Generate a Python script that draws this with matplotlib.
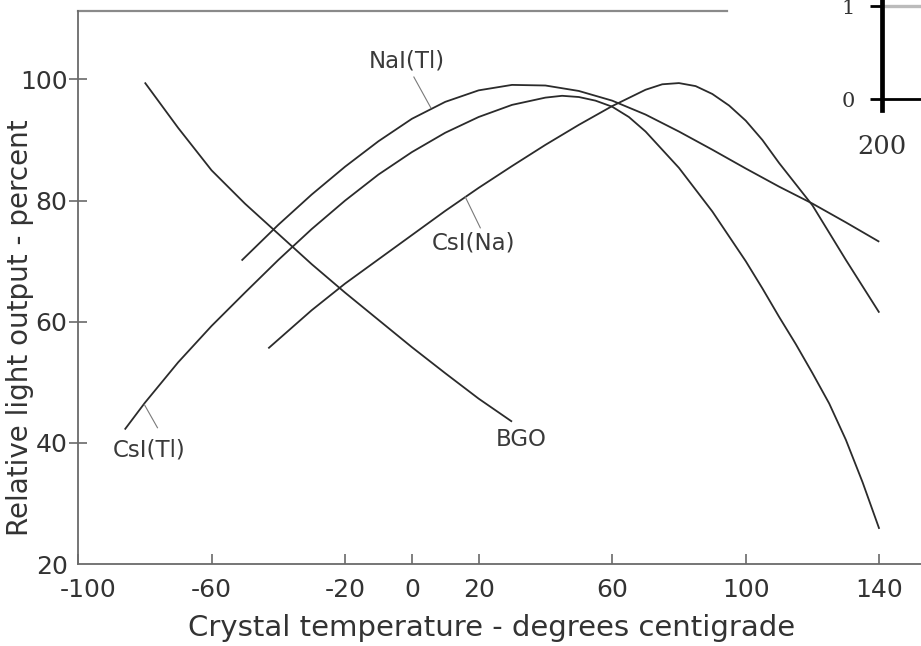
import numpy as np
import matplotlib.pyplot as plt
import matplotlib.transforms as mtransforms

plt.rcParams['font.family'] = ['DejaVu Sans']
plt.rcParams['axes.unicode_minus'] = False

# crystal temperature (deg C) vs relative light output (%)
bgo_t = [-80, -70, -60, -50, -40, -30, -20, -10, 0, 10, 20, 30]
bgo_y = [99.5, 92, 85, 79.5, 74.5, 69.5, 64.8, 60.3, 55.8, 51.5, 47.3, 43.5]

nai_t = [-51, -40, -30, -20, -10, 0, 10, 20, 30, 40, 50, 60, 70, 80, 90, 100, 110, 120, 130, 140]
nai_y = [70.1, 76, 81, 85.6, 89.8, 93.5, 96.3, 98.2, 99.1, 99.0, 98.1, 96.5, 94.2, 91.4, 88.4, 85.3, 82.3, 79.5, 76.4, 73.2]

csitl_t = [-86, -80, -70, -60, -50, -40, -30, -20, -10, 0, 10, 20, 30, 40, 45, 50, 55, 60, 65, 70,
           80, 90, 100, 105, 110, 115, 120, 125, 130, 135, 140]
csitl_y = [42.2, 46.6, 53.3, 59.3, 64.8, 70.2, 75.3, 80, 84.3, 88, 91.2, 93.8, 95.8, 97.0, 97.3, 97.1, 96.5, 95.5, 93.8, 91.4,
           85.4, 78.2, 70.0, 65.5, 60.8, 56.3, 51.5, 46.5, 40.5, 33.5, 25.8]

csina_t = [-43, -30, -20, -10, 0, 10, 20, 30, 40, 50, 60, 70, 75, 80, 85, 90, 95, 100, 105, 110, 120, 130, 140]
csina_y = [55.6, 61.9, 66.3, 70.3, 74.3, 78.3, 82.1, 85.7, 89.2, 92.5, 95.6, 98.3, 99.2, 99.4, 98.9, 97.6, 95.7, 93.2, 90.0,
           86.2, 79.2, 70.2, 61.5]

x_ticks = [-100, -60, -20, 0, 20, 60, 100, 140]
y_ticks = [20, 40, 60, 80, 100]

# curve labels: text, text position, leader line (from, to) or None
labels = [
    ('NaI(Tl)', (-1.5, 103.0), ((0.6, 100.4), (5.7, 95.3))),
    ('CsI(Na)', (18.6, 73.0), ((16.0, 80.6), (20.5, 75.5))),
    ('CsI(Tl)', (-78.6, 38.8), ((-80.1, 46.3), (-76.2, 42.5))),
    ('BGO', (32.7, 40.5), None),
]

# scrap of the neighbouring panel that is cut off at the right edge
inset_x = [200, 260]
inset_top_x = [202, 260]

line_c = '#2b2b2b'
axis_c = '#6a6a6a'

fig = plt.figure(figsize=(9.21, 6.46), dpi=100)
ax = fig.add_axes([78 / 921, 82 / 646, (921 - 78) / 921, 553 / 646])

for t, y in [(bgo_t, bgo_y), (nai_t, nai_y), (csitl_t, csitl_y), (csina_t, csina_y)]:
    ax.plot(t, y, color=line_c, lw=1.3, solid_capstyle='butt')

for txt, pos, lead in labels:
    ax.text(pos[0], pos[1], txt, fontsize=16.5, color='#3a3a3a', ha='center', va='center')
    if lead is not None:
        ax.plot([lead[0][0], lead[1][0]], [lead[0][1], lead[1][1]], color='#7a7a7a', lw=0.8)

ax.set_xlim(-100, 152.5)
ax.set_ylim(20, 111.3)

# partial frame line along the top
ax.plot([-100, 94.3], [111.3, 111.3], color='#8a8a8a', lw=1.6, clip_on=False)

for s in ['top', 'right']:
    ax.spines[s].set_visible(False)
for s in ['left', 'bottom']:
    ax.spines[s].set_color(axis_c)
    ax.spines[s].set_linewidth(1.3)

ax.set_xticks(x_ticks)
ax.set_yticks(y_ticks)
ax.tick_params(axis='x', direction='in', length=7, width=1.2, color=axis_c, pad=10,
               labelsize=18, labelcolor='#333333')
ax.tick_params(axis='y', direction='inout', length=13, width=1.2, color=axis_c, pad=1,
               labelsize=18, labelcolor='#333333')
ax.yaxis.get_major_ticks()[0].tick1line.set_visible(False)

# the -100 label sits a little right of the corner, as in the original
shift = mtransforms.ScaledTranslation(7 / 72, 0, fig.dpi_scale_trans)
first = ax.get_xticklabels()[0]
first.set_transform(first.get_transform() + shift)

ax.set_xlabel('Crystal temperature - degrees centigrade', fontsize=21, color='#333333')
ax.set_ylabel('Relative light output - percent', fontsize=20, color='#333333')
ax.xaxis.set_label_coords(0.49, -0.09)
ax.yaxis.set_label_coords(-0.052, 0.427)

# cut-off panel on the right
ax2 = fig.add_axes([881.7 / 921, 1 - 110 / 646, (921 - 881.7) / 921, 110 / 646])
ax2.patch.set_visible(False)
ax2.set_xlim(200, 260)
ax2.set_ylim(-0.118, 1.0645)
ax2.plot(inset_x, [0, 0], color='black', lw=2, clip_on=False)
ax2.plot(inset_top_x, [1, 1], color='#bbbbbb', lw=2.4, clip_on=False)
for s in ['top', 'right', 'bottom']:
    ax2.spines[s].set_visible(False)
ax2.spines['left'].set_linewidth(3.4)
ax2.set_yticks([0, 1])
ax2.set_xticks([200])
ax2.tick_params(axis='y', direction='out', length=9, width=2, pad=10, labelsize=15)
ax2.tick_params(axis='x', length=0, pad=17, labelsize=18.5)
for lab in ax2.get_xticklabels() + ax2.get_yticklabels():
    lab.set_family('DejaVu Serif')
    lab.set_color('#333333')

fig.savefig('out.png', dpi=100)
